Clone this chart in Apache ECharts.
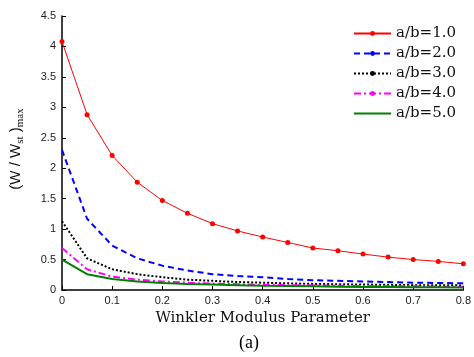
<!DOCTYPE html>
<html><head><meta charset="utf-8">
<script src="https://cdn.jsdelivr.net/npm/echarts@6/dist/echarts.min.js"></script>
<style>html,body{margin:0;padding:0;background:#fff}#c{width:474px;height:357px}</style>
</head><body><div id="c"></div>
<script>
const xValues = [0,0.05,0.1,0.15,0.2,0.25,0.3,0.35,0.4,0.45,0.5,0.55,0.6,0.65,0.7,0.75,0.8];
const ab1 = [4.08,2.88,2.21,1.77,1.47,1.26,1.09,0.97,0.87,0.78,0.69,0.645,0.59,0.54,0.50,0.47,0.43];
const ab2 = [2.30,1.17,0.73,0.52,0.40,0.32,0.26,0.23,0.21,0.18,0.16,0.15,0.14,0.13,0.12,0.115,0.11];
const ab3 = [1.13,0.52,0.34,0.26,0.21,0.17,0.15,0.13,0.12,0.11,0.10,0.095,0.09,0.085,0.08,0.08,0.075];
const ab4 = [0.69,0.34,0.22,0.17,0.14,0.12,0.105,0.095,0.085,0.08,0.075,0.07,0.065,0.06,0.06,0.055,0.055];
const ab5 = [0.50,0.26,0.18,0.14,0.115,0.10,0.09,0.08,0.07,0.065,0.06,0.055,0.05,0.05,0.045,0.045,0.04];
const seriesNames = ['a/b=1.0','a/b=2.0','a/b=3.0','a/b=4.0','a/b=5.0'];
const xTicks = {min:0,max:0.8,interval:0.1};
const yTicks = {min:0,max:4.5,interval:0.5};

const pairs = a => xValues.map((x,i)=>[x,a[i]]);
const chart = echarts.init(document.getElementById('c'));
const axisFont = {fontFamily:'Liberation Sans, Arial, sans-serif',fontSize:11,color:'#222'};
chart.setOption({
  animation:false,
  grid:{left:62,right:6,top:16,bottom:67,containLabel:false},
  title:{text:'(a)',top:334,left:239,padding:0,textStyle:{fontFamily:'Liberation Serif, Times New Roman, serif',fontSize:18,fontWeight:'normal',color:'#000'}},
  legend:{
    orient:'vertical',left:348,top:21,itemWidth:37,itemHeight:6,itemGap:5,
    textStyle:{fontFamily:'DejaVu Serif, serif',fontSize:15,lineHeight:14,color:'#111'},
    data:seriesNames.slice(0,4).concat([{name:seriesNames[4],itemStyle:{opacity:0}}])
  },
  xAxis:{
    type:'value',min:xTicks.min,max:xTicks.max,interval:xTicks.interval,
    name:'Winkler Modulus Parameter',nameLocation:'middle',nameGap:20,
    nameTextStyle:{fontFamily:'DejaVu Serif, serif',fontSize:15,color:'#111'},
    axisLine:{lineStyle:{color:'#000',width:1.5}},
    axisTick:{inside:true,length:4,lineStyle:{color:'#000'}},
    axisLabel:Object.assign({margin:5,formatter:v=>String(+v.toFixed(1))},axisFont),
    splitLine:{show:false}
  },
  yAxis:{
    type:'value',min:yTicks.min,max:yTicks.max,interval:yTicks.interval,
    name:'{a|(W / W}{s|st}{a| )}{s|max}',nameLocation:'middle',nameGap:36,nameRotate:90,
    nameTextStyle:{padding:[0,0,0,8],rich:{
      a:{fontFamily:'Liberation Sans, Arial, sans-serif',fontSize:15,color:'#111'},
      s:{fontFamily:'Liberation Serif, Times New Roman, serif',fontSize:11,color:'#111',padding:[9,0,0,0]}
    }},
    axisLine:{show:true,lineStyle:{color:'#000',width:1.5}},
    axisTick:{show:true,inside:true,length:4,lineStyle:{color:'#000'}},
    axisLabel:Object.assign({margin:6,formatter:v=>String(+v.toFixed(1))},axisFont),
    splitLine:{show:false}
  },
  series:[
    {name:seriesNames[0],type:'line',data:pairs(ab1),symbol:'circle',symbolSize:5,color:'#ff0000',lineStyle:{width:1,color:'#ff0000'},itemStyle:{color:'#ff0000'}},
    {name:seriesNames[1],type:'line',data:pairs(ab2),symbol:'circle',symbolSize:5,showSymbol:false,color:'#0000ff',lineStyle:{width:2,type:[6,4],color:'#0000ff'},itemStyle:{color:'#0000ff'}},
    {name:seriesNames[2],type:'line',data:pairs(ab3),symbol:'circle',symbolSize:5,showSymbol:false,color:'#000000',lineStyle:{width:2,type:[2,2],color:'#000'},itemStyle:{color:'#000'}},
    {name:seriesNames[3],type:'line',data:pairs(ab4),symbol:'circle',symbolSize:5,showSymbol:false,color:'#ff00ff',lineStyle:{width:2,type:[7,3,2,3],color:'#ff00ff'},itemStyle:{color:'#ff00ff'}},
    {name:seriesNames[4],type:'line',data:pairs(ab5),symbol:'none',color:'#008000',lineStyle:{width:2,color:'#008000'}}
  ]
});
</script></body></html>
